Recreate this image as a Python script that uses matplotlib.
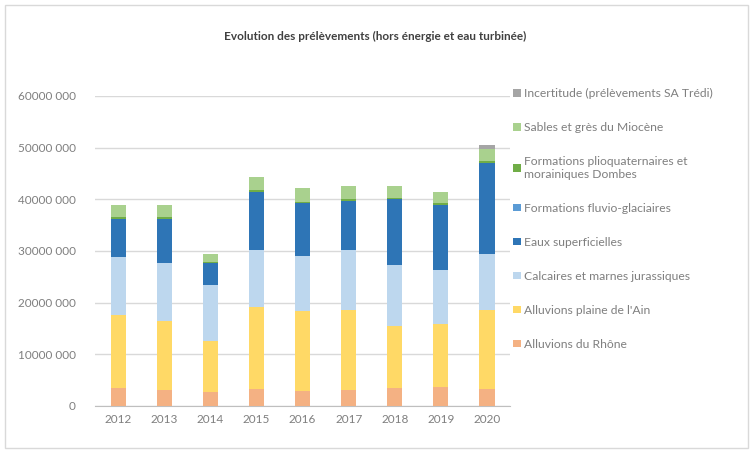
import matplotlib.pyplot as plt
from matplotlib.ticker import FuncFormatter
from matplotlib.patches import Rectangle

plt.rcParams['font.family'] = ['Lato', 'DejaVu Sans']

years = ['2012', '2013', '2014', '2015', '2016', '2017', '2018', '2019', '2020']

# values in millions of m3, bottom to top
rhone      = [3.4, 3.1, 2.65, 3.2, 2.9, 3.1, 3.4, 3.6, 3.3]
ain        = [14.2, 13.4, 9.85, 15.9, 15.4, 15.5, 12.1, 12.2, 15.3]
calcaires  = [11.3, 11.1, 10.8, 11.0, 10.7, 11.5, 11.7, 10.5, 10.8]
eaux_sup   = [7.2, 8.6, 4.3, 11.2, 10.2, 9.6, 12.8, 12.5, 17.6]
fluvio     = [0, 0, 0, 0, 0, 0, 0, 0, 0]
plio       = [0.4, 0.3, 0.3, 0.4, 0.3, 0.3, 0.3, 0.4, 0.3]
sables     = [2.3, 2.4, 1.5, 2.6, 2.6, 2.5, 2.3, 2.2, 2.4]
incert     = [0, 0, 0, 0, 0, 0, 0, 0, 0.8]

series = [
    ('Alluvions du Rhône', rhone, '#F4B183'),
    ("Alluvions plaine de l'Ain", ain, '#FFD966'),
    ('Calcaires et marnes jurassiques', calcaires, '#BDD7EE'),
    ('Eaux superficielles', eaux_sup, '#2E75B6'),
    ('Formations fluvio-glaciaires', fluvio, '#5B9BD5'),
    ('Formations plioquaternaires et\nmorainiques Dombes', plio, '#70AD47'),
    ('Sables et grès du Miocène', sables, '#A9D18E'),
    ('Incertitude (prélèvements SA Trédi)', incert, '#A5A5A5'),
]

fig = plt.figure(figsize=(7.5, 4.5), dpi=100)
fig.patches.append(Rectangle((0.007, 0.005), 0.99, 0.983, transform=fig.transFigure,
                             fill=False, edgecolor='#D9D9D9', linewidth=1))
ax = fig.add_axes([0.127, 0.098, 0.553, 0.689])

x = list(range(len(years)))
bottom = [0.0] * len(years)
handles = []
for name, vals, color in series:
    v = [a * 1e6 for a in vals]
    b = ax.bar(x, v, 0.33, bottom=bottom, color=color, label=name, zorder=3)
    handles.append(b)
    bottom = [p + q for p, q in zip(bottom, v)]

ax.set_xlim(-0.5, 8.5)
ax.set_ylim(0, 60e6)
ax.set_yticks([i * 10e6 for i in range(7)])
ax.yaxis.set_major_formatter(FuncFormatter(
    lambda v, p: '0' if v == 0 else f'{int(v / 1000)} 000'))
ax.set_xticks(x)
ax.set_xticklabels(years)
ax.grid(axis='y', color='#D9D9D9', linewidth=1, zorder=0)
for s in ['top', 'right', 'left']:
    ax.spines[s].set_visible(False)
ax.spines['bottom'].set_color('#BFBFBF')
ax.tick_params(length=0, colors='#7F7F7F', labelsize=8.5)
ax.tick_params(axis='y', pad=14)
ax.tick_params(axis='x', pad=6)

fig.text(0.5, 0.92, 'Evolution des prélèvements (hors énergie et eau turbinée)',
         ha='center', va='center', fontsize=8.5, fontweight='bold', color='#404040')

leg = ax.legend(handles[::-1], [s[0] for s in series[::-1]],
                loc='upper left', bbox_to_anchor=(0.678, 0.815),
                bbox_transform=fig.transFigure, frameon=False,
                fontsize=8.7, labelspacing=1.9, handlelength=0.6,
                handleheight=0.6, handletextpad=0.3, borderaxespad=0)
for t in leg.get_texts():
    t.set_color('#7F7F7F')

fig.savefig('out.png', dpi=100)
